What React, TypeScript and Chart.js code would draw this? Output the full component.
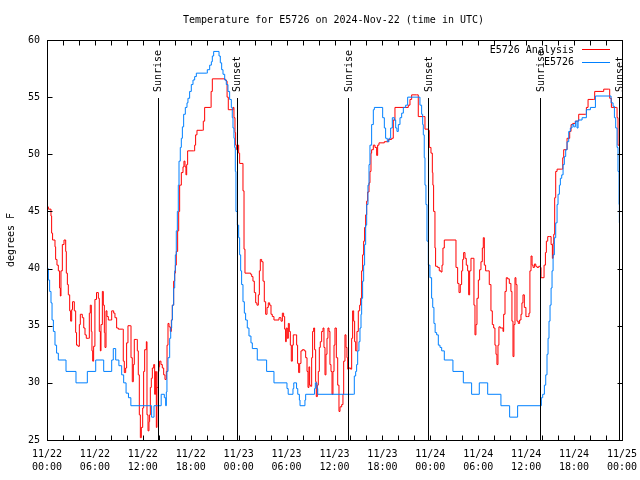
import React, { useEffect, useRef } from 'react';
import { Chart, registerables } from 'chart.js';

Chart.register(...registerables);

const TITLE = 'Temperature for E5726 on 2024-Nov-22 (time in UTC)';
const Y_LABEL = 'degrees F';
const SERIES_NAMES = ['E5726 Analysis', 'E5726'];

const xTickDates = ['11/22', '11/22', '11/22', '11/22', '11/23', '11/23', '11/23', '11/23', '11/24', '11/24', '11/24', '11/24', '11/25'];
const xTickTimes = ['00:00', '06:00', '12:00', '18:00', '00:00', '06:00', '12:00', '18:00', '00:00', '06:00', '12:00', '18:00', '00:00'];

// hours since 11/22 00:00 UTC
const sunEventHours = [13.84, 23.73, 37.73, 47.75, 61.77, 71.67];
const sunEventLabels = ['Sunrise', 'Sunset', 'Sunrise', 'Sunset', 'Sunrise', 'Sunset'];

const analysisHours = [
  0, 0.17, 0.5, 0.58, 0.7, 1.0, 1.08, 1.25, 1.42, 1.58, 1.67, 1.75, 1.92, 2.13, 2.34, 2.42, 2.55, 2.67, 2.84, 2.96,
  3.09, 3.2, 3.42, 3.59, 3.7, 3.88, 4.05, 4.17, 4.42, 4.6, 4.76, 4.92, 5.18, 5.3, 5.42, 5.55, 5.63, 5.72, 5.84, 6.0,
  6.2, 6.43, 6.55, 6.68, 6.76, 6.93, 7.05, 7.18, 7.26, 7.39, 7.51, 7.68, 7.93, 8.1, 8.35, 8.51, 8.72, 8.93, 9.43, 9.55,
  9.68, 9.85, 9.97, 10.14, 10.43, 10.52, 10.68, 10.81, 10.93, 11.18, 11.31, 11.43, 11.56, 11.69, 11.81, 11.98, 12.1, 12.23, 12.44, 12.52,
  12.65, 12.77, 12.85, 12.94, 13.06, 13.19, 13.36, 13.48, 13.6, 13.69, 13.77, 13.9, 14.02, 14.1, 14.27, 14.44, 14.61, 14.77, 14.94, 15.03,
  15.15, 15.28, 15.44, 15.57, 15.69, 15.86, 15.99, 16.07, 16.19, 16.36, 16.49, 16.61, 16.82, 17.03, 17.15, 17.28, 17.4, 17.49, 17.61, 18.36,
  18.49, 18.61, 18.78, 19.45, 19.57, 19.74, 20.49, 20.55, 20.7, 22.3, 22.45, 22.55, 22.7, 23.3, 23.41, 23.54, 23.62, 23.75, 23.91, 24.0,
  24.12, 24.54, 24.67, 24.79, 25.5, 25.63, 25.79, 25.96, 26.13, 26.29, 26.46, 26.59, 26.71, 26.88, 27.05, 27.21, 27.38, 27.55, 27.71, 27.88,
  28.05, 28.21, 28.42, 29.05, 29.3, 29.47, 29.63, 29.76, 29.88, 29.96, 30.09, 30.22, 30.34, 30.47, 30.59, 30.72, 30.84, 31.13, 31.26, 31.38,
  31.51, 31.64, 31.8, 31.97, 32.22, 32.39, 32.56, 32.68, 32.8, 32.89, 33.01, 33.14, 33.26, 33.39, 33.51, 33.64, 33.72, 33.85, 33.97, 34.1,
  34.22, 34.39, 34.56, 34.68, 34.81, 34.93, 35.06, 35.18, 35.31, 35.43, 35.56, 35.69, 35.81, 35.94, 36.06, 36.23, 36.4, 36.56, 36.69, 36.9,
  37.06, 37.15, 37.31, 37.44, 37.56, 37.65, 37.81, 38.02, 38.15, 38.27, 38.4, 38.52, 38.65, 38.81, 38.98, 39.15, 39.27, 39.4, 39.52, 39.65,
  39.77, 39.9, 40.03, 40.15, 40.32, 40.44, 40.57, 40.65, 40.86, 41.07, 41.28, 41.4, 41.57, 42.24, 42.74, 43.16, 43.36, 43.57, 45.24, 45.45,
  45.66, 46.28, 46.49, 47.12, 47.33, 47.75, 47.87, 48.08, 48.25, 48.32, 48.41, 48.58, 48.66, 48.91, 49.12, 49.33, 49.46, 49.58, 49.75, 51.09,
  51.21, 51.42, 51.59, 51.75, 51.92, 52.05, 52.17, 52.34, 52.5, 52.67, 52.8, 52.92, 53.09, 53.34, 53.46, 53.59, 53.71, 53.84, 54.01, 54.17,
  54.34, 54.51, 54.63, 54.76, 54.92, 55.18, 55.38, 55.59, 55.76, 55.93, 56.09, 56.22, 56.34, 56.47, 56.59, 56.76, 57.1, 57.18, 57.35, 57.51,
  57.68, 57.89, 58.09, 58.22, 58.35, 58.47, 58.6, 58.72, 58.85, 59.01, 59.18, 59.35, 59.47, 59.6, 59.77, 59.97, 60.18, 60.35, 60.47, 60.61,
  60.74, 60.86, 61.03, 61.2, 61.36, 61.57, 61.78, 61.86, 62.11, 62.24, 62.41, 62.53, 62.7, 62.95, 63.12, 63.28, 63.37, 63.45, 63.57, 63.7,
  63.87, 64.45, 64.58, 64.7, 64.99, 65.12, 65.45, 65.62, 65.83, 66.16, 66.58, 67.41, 67.54, 67.75, 68.46, 68.58, 69.5, 69.71, 70.34, 70.46,
  70.67, 71.3, 71.38, 71.5, 71.67,
];
const analysisTemps = [
  45.4, 45.2, 44.6, 43.1, 42.5, 41.9, 40.8, 40.3, 39.8, 38.3, 37.6, 39.8, 42.1, 42.5, 41.5, 39.6, 38.6, 37.7, 36.3, 35.4,
  36.4, 37.1, 36.3, 34.4, 33.3, 33.2, 35.1, 36.0, 35.7, 34.8, 34.2, 33.9, 33.9, 36.1, 36.8, 34.5, 32.8, 31.9, 33.2, 37.3,
  37.9, 37.4, 34.5, 32.8, 35.1, 38.0, 36.8, 34.4, 33.1, 36.3, 35.8, 35.5, 35.5, 36.3, 36.1, 35.7, 34.8, 34.7, 34.7, 31.9,
  30.9, 31.3, 33.5, 35.0, 35.0, 32.2, 30.1, 31.6, 33.8, 33.8, 32.8, 30.7, 27.2, 25.2, 26.1, 27.8, 31.0, 32.9, 33.6, 27.2,
  25.8, 26.6, 27.2, 29.6, 30.4, 31.3, 31.6, 29.0, 31.0, 26.1, 29.6, 31.0, 31.4, 31.9, 31.6, 31.3, 30.7, 30.3, 31.0, 33.3,
  35.2, 34.9, 34.5, 35.5, 36.8, 38.9, 39.6, 40.3, 41.5, 43.3, 45.0, 47.3, 48.4, 48.9, 49.4, 48.9, 48.2, 49.1, 50.3, 50.3,
  50.8, 51.7, 52.1, 52.1, 52.9, 54.1, 54.1, 55.5, 56.6, 56.5, 56.4, 55.0, 53.9, 54.1, 53.2, 51.9, 50.8, 50.4, 50.8, 50.1,
  49.2, 46.8, 41.7, 39.6, 39.5, 39.3, 38.9, 37.9, 37.0, 36.8, 37.7, 39.8, 40.8, 40.6, 38.9, 37.1, 36.0, 36.6, 37.0, 36.8,
  36.0, 35.8, 35.5, 35.7, 35.4, 36.1, 35.8, 34.7, 33.6, 34.8, 33.9, 35.2, 34.5, 33.3, 31.9, 33.3, 34.2, 34.2, 33.3, 31.7,
  30.9, 31.7, 32.8, 32.9, 32.8, 32.2, 31.0, 29.6, 31.4, 29.8, 29.7, 32.2, 34.5, 34.8, 32.9, 30.1, 28.8, 29.8, 31.0, 33.1,
  33.6, 34.5, 34.8, 33.1, 30.7, 32.5, 33.9, 34.8, 34.5, 31.6, 31.0, 29.0, 31.0, 33.3, 34.8, 32.2, 29.8, 27.5, 27.9, 28.1,
  29.0, 31.9, 34.2, 33.1, 32.2, 31.2, 31.3, 31.2, 33.9, 36.3, 35.4, 33.6, 32.8, 34.5, 36.3, 36.8, 37.4, 39.8, 41.2, 42.4,
  43.6, 44.7, 45.9, 46.7, 47.5, 48.5, 50.1, 50.4, 50.8, 50.6, 49.9, 50.8, 51.0, 51.1, 51.3, 51.4, 53.0, 54.1, 54.3, 54.8,
  55.2, 55.2, 53.3, 53.3, 52.2, 52.1, 50.6, 50.1, 48.4, 47.3, 45.0, 41.8, 40.2, 40.1, 39.8, 39.7, 40.3, 41.8, 42.5, 42.5,
  40.1, 38.7, 37.9, 38.6, 39.8, 40.8, 41.4, 40.9, 40.3, 39.8, 37.7, 39.8, 40.9, 40.9, 36.8, 34.2, 35.1, 37.4, 39.0, 39.9,
  40.6, 41.8, 42.7, 40.3, 39.8, 39.8, 38.6, 36.3, 35.1, 34.8, 33.3, 32.5, 31.6, 33.3, 34.9, 34.8, 34.5, 36.0, 38.0, 39.2,
  39.1, 38.7, 38.0, 35.4, 32.3, 35.1, 39.2, 38.6, 35.4, 35.2, 35.5, 36.0, 37.0, 37.7, 36.6, 35.8, 35.8, 36.1, 39.8, 41.1,
  40.3, 40.1, 40.4, 40.2, 40.1, 40.2, 40.1, 39.2, 39.2, 40.3, 41.4, 42.4, 42.8, 42.8, 42.1, 40.9, 42.2, 43.0, 46.2, 48.5,
  48.7, 48.7, 49.7, 50.4, 50.4, 51.4, 52.0, 52.6, 52.7, 52.9, 53.5, 53.5, 54.1, 54.8, 54.8, 55.5, 55.5, 55.7, 55.7, 54.9,
  54.1, 54.1, 53.2, 50.8, 50.8,
];

const observedHours = [
  0, 0.17, 0.33, 0.5, 0.63, 0.8, 1.0, 1.2, 1.42, 2.38, 3.63, 5.05, 6.1, 7.1, 8.1, 8.3, 8.6, 9.0, 9.35, 9.6,
  9.9, 10.2, 10.5, 13.1, 13.4, 14.3, 14.69, 14.86, 14.94, 15.02, 15.15, 15.36, 15.49, 15.61, 15.7, 15.86, 15.99, 16.07, 16.19, 16.32,
  16.44, 16.53, 16.69, 16.82, 16.95, 17.11, 17.32, 17.53, 17.65, 17.86, 18.07, 18.28, 18.49, 18.7, 19.95, 20.07, 20.37, 20.58, 20.7, 20.87,
  21.41, 21.54, 21.7, 21.87, 22.04, 22.25, 22.45, 22.66, 22.87, 23.08, 23.2, 23.29, 23.41, 23.5, 23.58, 23.66, 23.83, 24.0, 24.12, 24.25,
  24.37, 24.54, 24.71, 24.87, 25.08, 25.29, 25.54, 25.71, 26.33, 27.5, 28.42, 30.05, 30.2, 30.8, 30.9, 31.25, 31.4, 31.6, 31.68, 32.3,
  32.39, 33.5, 33.6, 33.8, 33.9, 38.4, 38.48, 38.65, 38.77, 38.9, 39.06, 39.19, 39.32, 39.4, 39.52, 39.65, 39.77, 39.9, 40.03, 40.19,
  40.32, 40.44, 40.65, 40.86, 40.99, 41.82, 42.03, 42.24, 42.4, 42.61, 42.82, 43.03, 43.24, 43.49, 43.66, 43.82, 43.99, 44.2, 44.41, 44.62,
  44.91, 45.16, 46.49, 46.7, 46.91, 47.04, 47.12, 47.24, 47.33, 47.45, 47.58, 47.75, 47.95, 48.16, 48.3, 48.45, 48.6, 48.79, 49.0, 49.21,
  49.42, 49.75, 50.83, 52.13, 53.17, 54.13, 55.18, 56.84, 57.93, 58.93, 61.85, 61.9, 62.07, 62.28, 62.45, 62.61, 62.74, 62.86, 62.99, 63.12,
  63.24, 63.37, 63.53, 63.7, 63.87, 63.99, 64.16, 64.28, 64.45, 64.62, 64.78, 64.95, 65.12, 65.33, 65.53, 65.74, 65.95, 66.16, 66.37, 66.5,
  67.0, 67.54, 68.04, 68.67, 70.46, 70.63, 70.88, 71.05, 71.21, 71.38, 71.5, 71.63, 71.67,
];
const observedTemps = [
  40, 39, 38, 37, 35.5, 34.5, 33.3, 32.6, 32, 31, 30, 31, 32, 31, 32, 33, 32, 31.5, 30.7, 30,
  29.1, 28.7, 28, 27, 28, 29, 28.7, 28, 29.2, 31, 32.2, 33.9, 34.8, 35.5, 36.8, 38.3, 39.8, 41.2, 43.3, 45,
  47.3, 49.4, 50.6, 51.4, 52.4, 53.5, 54.1, 54.5, 54.9, 55.5, 56.1, 56.5, 56.8, 57.1, 57.1, 57.4, 57.8, 58.1, 58.6, 59.0,
  59.0, 58.6, 58.0, 57.4, 57.0, 56.5, 56.1, 55.5, 54.8, 54.1, 53.2, 52.3, 51.4, 50.6, 48.5, 45.0, 43.8, 42.7, 41.2, 39.8,
  38.6, 37.1, 36.1, 35.5, 34.8, 34.1, 33.5, 33.0, 32, 31, 30, 29.5, 29, 29.5, 30, 29.5, 29, 28.5, 28, 28.5,
  29, 29.5, 30, 29.5, 29, 29, 30.6, 31, 31.6, 32.8, 33.6, 34.8, 36, 37.4, 38.9, 40.3, 42.1, 43.8, 45.6, 47.3,
  49.1, 50.8, 52.6, 53.9, 54.1, 54.1, 53.2, 52.3, 51.4, 51.1, 51.4, 52.3, 53.2, 53.0, 52.3, 52.0, 52.6, 53.2, 53.6, 54.1,
  54.3, 55.0, 55.0, 54.3, 53.5, 52.6, 51.7, 49.7, 47.3, 45.6, 42.4, 40.3, 39.2, 37.4, 36.6, 35.2, 34.4, 34.2, 33.3, 33.1,
  32.8, 32, 31, 30, 29, 30, 29, 28, 27, 28, 28, 28.7, 29, 29.8, 30.7, 32.5, 33.9, 35.4, 36.8, 38.3,
  39.8, 41.2, 42.7, 44, 45.6, 46.5, 47.3, 47.9, 48.2, 49.1, 49.8, 50.4, 51.1, 52, 52.3, 52.6, 52.4, 52.9, 52.3, 53.0,
  53.2, 53.9, 54.1, 55.1, 55.1, 54.5, 54.2, 53.2, 52.3, 50.6, 48.5, 45.6, 44.0,
];

const FONT_FAMILY = '"DejaVu Sans Mono", monospace';
const FONT = '10px "DejaVu Sans Mono", monospace';
const RED = '#ff0000';
const BLUE = '#0080ff';

const decorPlugin = {
  id: 'decor',
  afterDatasetsDraw(chart: any) {
    const { ctx, chartArea: a, scales } = chart;
    const xs = scales.x;
    const ys = scales.y;
    const L = Math.round(a.left) + 0.5;
    const R = Math.round(a.right) + 0.5;
    const T = Math.round(a.top) + 0.5;
    const B = Math.round(a.bottom) + 0.5;
    ctx.save();
    ctx.strokeStyle = '#000';
    ctx.lineWidth = 1;

    // sunrise / sunset lines
    ctx.beginPath();
    sunEventHours.forEach((h) => {
      const px = Math.round(xs.getPixelForValue(h)) + 0.5;
      ctx.moveTo(px, 98);
      ctx.lineTo(px, B);
    });
    ctx.stroke();

    // ticks (inward, mirrored)
    ctx.beginPath();
    for (let h = 0; h <= 72; h += 2) {
      const px = Math.round(xs.getPixelForValue(h)) + 0.5;
      ctx.moveTo(px, B); ctx.lineTo(px, B - 5);
      ctx.moveTo(px, T); ctx.lineTo(px, T + 5);
    }
    for (let v = 25; v <= 60; v += 5) {
      const py = Math.round(ys.getPixelForValue(v)) + 0.5;
      ctx.moveTo(L, py); ctx.lineTo(L + 5, py);
      ctx.moveTo(R, py); ctx.lineTo(R - 5, py);
    }
    ctx.stroke();

    // border
    ctx.strokeRect(L, T, R - L, B - T);

    // sun labels
    ctx.fillStyle = '#000';
    ctx.font = FONT;
    sunEventHours.forEach((h, i) => {
      const px = xs.getPixelForValue(h);
      ctx.save();
      ctx.translate(px + 1, 92);
      ctx.rotate(-Math.PI / 2);
      ctx.textAlign = 'left';
      ctx.textBaseline = 'middle';
      ctx.fillText(sunEventLabels[i], 0, 0);
      ctx.restore();
    });

    // title
    ctx.textAlign = 'left';
    ctx.textBaseline = 'middle';
    ctx.fillText(TITLE, 183, 20);

    // legend
    const colors = [RED, BLUE];
    SERIES_NAMES.forEach((name, i) => {
      const y = 50 + i * 12.5;
      ctx.fillStyle = '#000';
      ctx.textAlign = 'right';
      ctx.fillText(name, 574, y);
      ctx.strokeStyle = colors[i];
      ctx.beginPath();
      ctx.moveTo(582, Math.round(y) - 0.5);
      ctx.lineTo(610, Math.round(y) - 0.5);
      ctx.stroke();
    });
    ctx.restore();
  },
};

export default function App() {
  const canvasRef = useRef<HTMLCanvasElement | null>(null);

  useEffect(() => {
    document.body.style.margin = '0';
    const canvas = canvasRef.current;
    if (!canvas) return;
    const tickFont = { family: FONT_FAMILY, size: 10, lineHeight: 1.3 };
    const chart = new Chart(canvas, {
      type: 'line',
      data: {
        datasets: [
          {
            label: SERIES_NAMES[0],
            data: analysisHours.map((h, i) => ({ x: h, y: analysisTemps[i] })),
            borderColor: RED,
            backgroundColor: RED,
            borderWidth: 1,
            pointRadius: 0,
            stepped: true,
            fill: false,
            order: 2,
          },
          {
            label: SERIES_NAMES[1],
            data: observedHours.map((h, i) => ({ x: h, y: observedTemps[i] })),
            borderColor: BLUE,
            backgroundColor: BLUE,
            borderWidth: 1,
            pointRadius: 0,
            stepped: true,
            fill: false,
            order: 1,
          },
        ],
      },
      options: {
        animation: false,
        responsive: false,
        maintainAspectRatio: false,
        layout: { padding: { top: 40, right: 18, left: 0, bottom: 0 } },
        plugins: {
          legend: { display: false },
          title: { display: false },
          tooltip: { enabled: false },
        },
        scales: {
          x: {
            type: 'linear',
            min: 0,
            max: 72,
            grid: { display: false, drawTicks: false },
            border: { display: false },
            ticks: {
              stepSize: 6,
              autoSkip: false,
              maxRotation: 0,
              minRotation: 0,
              padding: 8,
              color: '#000',
              font: tickFont,
              callback: (v: any) => {
                const i = Math.round(Number(v) / 6);
                return [xTickDates[i], xTickTimes[i]];
              },
            },
            afterFit: (s: any) => {
              s.height = 40;
              s.paddingLeft = 0;
              s.paddingRight = 0;
            },
          },
          y: {
            type: 'linear',
            min: 25,
            max: 60,
            grid: { display: false, drawTicks: false },
            border: { display: false },
            ticks: { stepSize: 5, padding: 7, color: '#000', font: tickFont },
            title: {
              display: true,
              text: Y_LABEL,
              color: '#000',
              font: { family: FONT_FAMILY, size: 10, lineHeight: 1.2 },
              padding: { top: 5, bottom: 0 },
            },
            afterFit: (s: any) => {
              s.width = 47;
              s.paddingTop = 0;
              s.paddingBottom = 0;
            },
          },
        },
      },
      plugins: [decorPlugin],
    } as any);
    return () => chart.destroy();
  }, []);

  return (
    <div style={{ position: 'fixed', left: 0, top: 0, width: 640, height: 480, background: '#fff' }}>
      <canvas ref={canvasRef} width={640} height={480} style={{ display: 'block' }} />
    </div>
  );
}
